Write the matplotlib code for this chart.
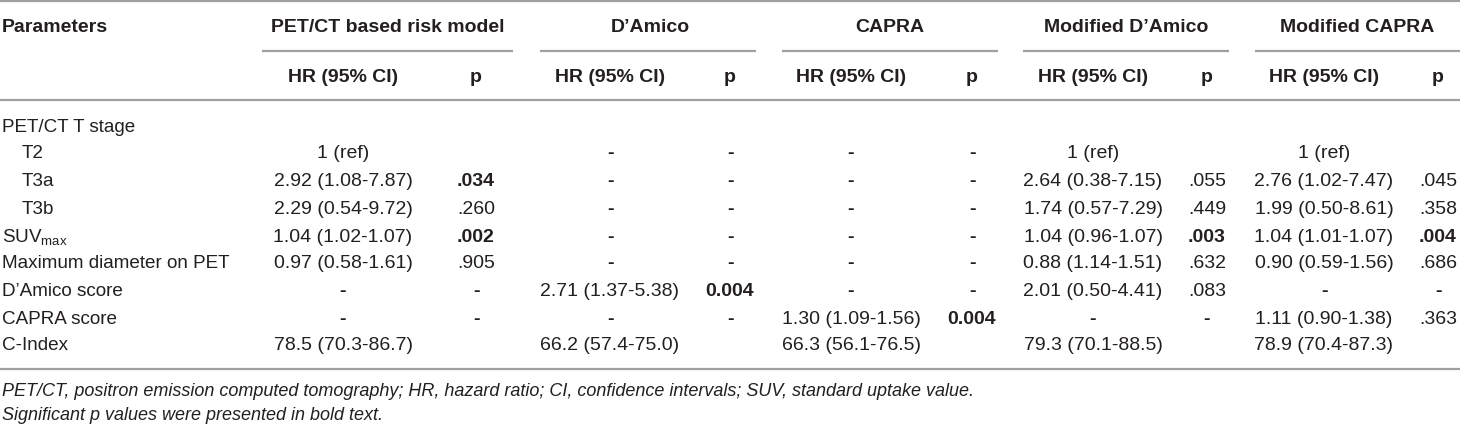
import matplotlib
matplotlib.use("Agg")
import matplotlib.pyplot as plt
from matplotlib import font_manager

# pick a narrow sans if one is installed
names = {f.name for f in font_manager.fontManager.ttflist}
FAMILY = "Liberation Sans Narrow" if "Liberation Sans Narrow" in names else "Liberation Sans"
plt.rcParams["font.family"] = [FAMILY, "DejaVu Sans"]
plt.rcParams["mathtext.default"] = "regular"

# table content
row_labels = ["PET/CT T stage", "T2", "T3a", "T3b", r"SUV$_{max}$",
              "Maximum diameter on PET", "D\u2019Amico score", "CAPRA score", "C-Index"]
indented = [False, True, True, True, False, False, False, False, False]

models = ["PET/CT based risk model", "D\u2019Amico", "CAPRA",
          "Modified D\u2019Amico", "Modified CAPRA"]

pet_hr = ["", "1 (ref)", "2.92 (1.08-7.87)", "2.29 (0.54-9.72)", "1.04 (1.02-1.07)",
          "0.97 (0.58-1.61)", "-", "-", "78.5 (70.3-86.7)"]
pet_p = ["", "", ".034", ".260", ".002", ".905", "-", "-", ""]

dam_hr = ["", "-", "-", "-", "-", "-", "2.71 (1.37-5.38)", "-", "66.2 (57.4-75.0)"]
dam_p = ["", "-", "-", "-", "-", "-", "0.004", "-", ""]

capra_hr = ["", "-", "-", "-", "-", "-", "-", "1.30 (1.09-1.56)", "66.3 (56.1-76.5)"]
capra_p = ["", "-", "-", "-", "-", "-", "-", "0.004", ""]

mdam_hr = ["", "1 (ref)", "2.64 (0.38-7.15)", "1.74 (0.57-7.29)", "1.04 (0.96-1.07)",
           "0.88 (1.14-1.51)", "2.01 (0.50-4.41)", "-", "79.3 (70.1-88.5)"]
mdam_p = ["", "", ".055", ".449", ".003", ".632", ".083", "-", ""]

mcapra_hr = ["", "1 (ref)", "2.76 (1.02-7.47)", "1.99 (0.50-8.61)", "1.04 (1.01-1.07)",
             "0.90 (0.59-1.56)", "-", "1.11 (0.90-1.38)", "78.9 (70.4-87.3)"]
mcapra_p = ["", "", ".045", ".358", ".004", ".686", "-", ".363", ""]

# significant p values printed bold
significant = {".034", ".002", "0.004", ".003", ".004"}

footnotes = ["PET/CT, positron emission computed tomography; HR, hazard ratio; "
             "CI, confidence intervals; SUV, standard uptake value.",
             "Significant p values were presented in bold text."]

# layout (pixel coords)
hr_x = [343, 610, 851, 1093, 1324]
p_x = [476, 730, 972, 1207, 1438]
group_span = [(262, 513), (540, 756), (782, 998), (1023, 1229), (1255, 1460)]
head_x = [388, 650, 890, 1126, 1357]
row_y = [127, 154, 182, 209, 237, 264, 292, 319, 346]

TXT = "#231f20"
RULE = "#a0a0a0"
FS = 14
FS_LAB = 13.6
FS_NOTE = 13

fig = plt.figure(figsize=(14.6, 4.26), dpi=100)
ax = fig.add_axes([0, 0, 1, 1])
ax.set_xlim(0, 1460)
ax.set_ylim(426, 0)
ax.axis("off")

# rules
for y in (1, 100, 369):
    ax.plot([0, 1460], [y, y], color=RULE, lw=1.6, solid_capstyle="butt")
for a, b in group_span:
    ax.plot([a, b], [51, 51], color=RULE, lw=1.6, solid_capstyle="butt")

# headers
ax.text(2, 28, "Parameters", ha="left", va="center", fontsize=FS, weight="bold", color=TXT)
for name, hx in zip(models, head_x):
    ax.text(hx, 28, name, ha="center", va="center", fontsize=FS, weight="bold", color=TXT)
for hx, px in zip(hr_x, p_x):
    ax.text(hx, 77, "HR (95% CI)", ha="center", va="center", fontsize=FS, weight="bold", color=TXT)
    ax.text(px, 77, "p", ha="center", va="center", fontsize=FS, weight="bold", color=TXT)

# body
for lab, ind, y in zip(row_labels, indented, row_y):
    ax.text(22 if ind else 2, y, lab, ha="left", va="center", fontsize=FS_LAB, color=TXT)

columns = [(pet_hr, pet_p), (dam_hr, dam_p), (capra_hr, capra_p),
           (mdam_hr, mdam_p), (mcapra_hr, mcapra_p)]
for (hr_vals, p_vals), hx, px in zip(columns, hr_x, p_x):
    for y, hv, pv in zip(row_y, hr_vals, p_vals):
        if hv:
            ax.text(hx, y, hv, ha="center", va="center", fontsize=FS, color=TXT,
                    weight="bold" if hv == "-" else "normal")
        if pv:
            ax.text(px, y, pv, ha="center", va="center", fontsize=FS, color=TXT,
                    weight="bold" if (pv in significant or pv == "-") else "normal")

# footnotes
ax.text(2, 391, footnotes[0], ha="left", va="center", fontsize=FS_NOTE, style="italic", color=TXT)
ax.text(2, 415, footnotes[1], ha="left", va="center", fontsize=FS_NOTE, style="italic", color=TXT)

fig.savefig("out.png", dpi=100)
